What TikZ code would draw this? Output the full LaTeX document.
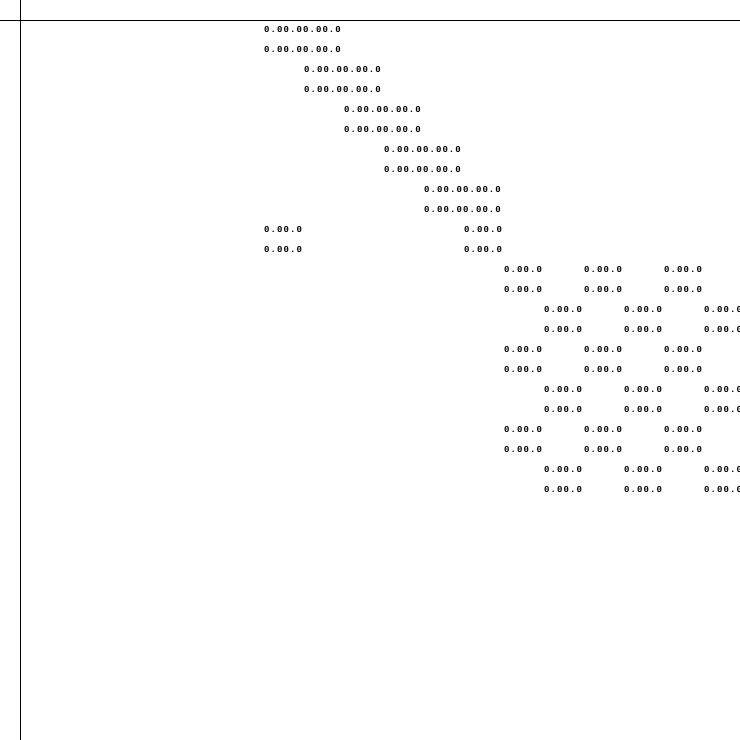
\documentclass[tikz,border=0pt]{standalone}
\usepackage{fontspec}
\newfontfamily\lblfont[LetterSpace=12]{Liberation Mono Bold}
\begin{document}
\begin{tikzpicture}[x=1pt,y=-1pt,
  lbl/.style={anchor=west,inner sep=0pt,font=\lblfont\fontsize{9}{9}\selectfont},
  axis/.style={line width=1pt,black}]
\useasboundingbox (0,0) rectangle (740,740);
\clip (0,0) rectangle (740,740);
\coordinate (vtop) at (20,0);
\coordinate (vbot) at (20,740);
\coordinate (hl) at (0,20);
\coordinate (hr) at (740,20);
\draw[axis] (vtop) -- (vbot);
\draw[axis] (hl) -- (hr);
% long labels
\foreach \i/\x/\y in {1/264/29.5,2/264/49.5,3/304/69.5,4/304/89.5,5/344/109.5,6/344/129.5,7/384/149.5,8/384/169.5,9/424/189.5,10/424/209.5}
  \node[lbl] (L\i) at (\x,\y) {0.00.00.00.0};
% short labels
\foreach \i/\x/\y in {1/264/229.5,2/464/229.5,3/264/249.5,4/464/249.5}
  \node[lbl] (S\i) at (\x,\y) {0.00.0};
\foreach \r/\y/\x in {a/269.5/504,b/289.5/504,c/309.5/544,d/329.5/544,e/349.5/504,f/369.5/504,g/389.5/544,h/409.5/544,i/429.5/504,j/449.5/504,k/469.5/544,l/489.5/544}
  \foreach \k in {0,1,2}
    \node[lbl] (G\r\k) at (\x+80*\k,\y) {0.00.0};
\end{tikzpicture}
\end{document}
